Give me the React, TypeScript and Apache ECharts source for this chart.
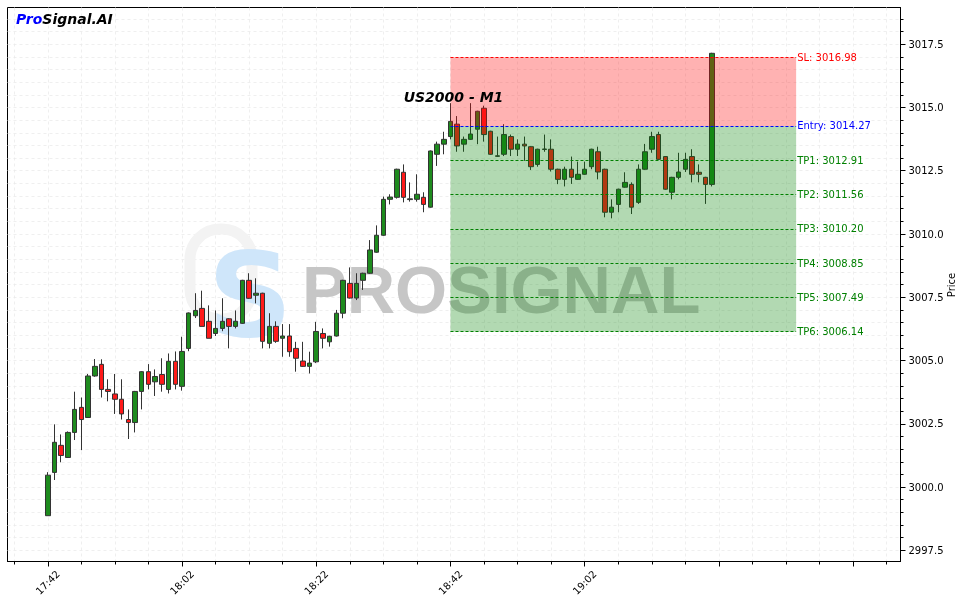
import React, { useEffect, useRef } from 'react';
import * as echarts from 'echarts';

const startMinute = 17 * 60 + 42;
const barCount = 100;
const fmtTime = (m: number) => {
  const h = Math.floor(m / 60);
  const mm = Math.round(m % 60);
  return `${h}:${mm < 10 ? '0' : ''}${mm}`;
};
const times: string[] = Array.from({ length: barCount }, (_, i) => fmtTime(startMinute + i));

const opens = [
  2998.87, 3000.58, 3001.65, 3001.17, 3002.16, 3003.15, 3002.75, 3004.39, 3004.85, 3003.86,
  3003.68, 3003.47, 3002.67, 3002.55, 3003.78, 3004.56, 3004.16, 3004.45, 3003.86, 3004.97,
  3003.98, 3005.48, 3006.77, 3007.06, 3006.55, 3006.07, 3006.27, 3006.65, 3006.35, 3006.47,
  3008.17, 3007.58, 3007.66, 3005.68, 3006.35, 3005.88, 3005.97, 3005.48, 3004.98, 3004.77,
  3004.95, 3006.07, 3005.74, 3005.97, 3006.87, 3008.05, 3007.47, 3008.17, 3008.45, 3009.28,
  3009.95, 3011.37, 3011.45, 3012.44, 3011.36, 3011.37, 3011.45, 3011.06, 3013.15, 3013.55,
  3013.85, 3014.34, 3013.55, 3013.74, 3014.14, 3014.97, 3014.06, 3013.07, 3013.15, 3013.85,
  3013.35, 3013.55, 3013.45, 3012.75, 3013.34, 3013.35, 3012.56, 3012.16, 3012.56, 3012.16,
  3012.36, 3012.66, 3013.25, 3012.56, 3010.86, 3011.17, 3011.85, 3011.96, 3011.25, 3012.56,
  3013.35, 3013.93, 3013.06, 3011.65, 3012.24, 3012.56, 3013.06, 3012.44, 3012.24, 3011.96,
];
const closes = [
  3000.47, 3001.77, 3001.25, 3002.16, 3003.07, 3002.67, 3004.39, 3004.77, 3003.86, 3003.78,
  3003.47, 3002.89, 3002.55, 3003.78, 3004.56, 3004.06, 3004.37, 3004.06, 3004.97, 3004.06,
  3005.36, 3006.88, 3006.98, 3006.35, 3005.88, 3006.27, 3006.55, 3006.35, 3006.55, 3008.17,
  3007.46, 3007.66, 3005.76, 3006.35, 3005.76, 3005.97, 3005.35, 3005.09, 3004.77, 3004.90,
  3006.15, 3005.88, 3005.96, 3006.87, 3008.17, 3007.47, 3008.05, 3008.45, 3009.37, 3009.95,
  3011.37, 3011.46, 3012.56, 3011.45, 3011.39, 3011.57, 3011.17, 3013.28, 3013.55, 3013.74,
  3014.45, 3013.48, 3013.74, 3013.95, 3014.85, 3013.93, 3013.15, 3013.09, 3013.93, 3013.35,
  3013.55, 3013.48, 3012.66, 3013.35, 3013.36, 3012.56, 3012.16, 3012.56, 3012.24, 3012.36,
  3012.56, 3013.35, 3012.45, 3010.86, 3011.06, 3011.77, 3012.04, 3011.06, 3012.56, 3013.25,
  3013.85, 3012.95, 3011.77, 3012.24, 3012.45, 3012.95, 3012.36, 3012.36, 3011.96, 3017.14,
];
const lows = [
  2998.87, 3000.28, 3000.98, 3001.15, 3001.86, 3001.46, 3002.73, 3004.36, 3003.54, 3003.39,
  3002.89, 3002.67, 3001.90, 3002.16, 3003.07, 3003.86, 3003.60, 3003.77, 3003.70, 3003.86,
  3003.81, 3005.37, 3006.68, 3006.35, 3005.88, 3005.97, 3006.16, 3005.48, 3006.27, 3006.45,
  3007.44, 3007.26, 3005.48, 3005.48, 3005.70, 3005.15, 3005.15, 3004.56, 3004.75, 3004.49,
  3004.90, 3005.48, 3005.55, 3005.95, 3006.67, 3007.45, 3007.39, 3007.79, 3008.43, 3009.26,
  3009.93, 3011.17, 3011.40, 3011.25, 3011.28, 3011.28, 3010.86, 3011.04, 3012.69, 3013.15,
  3013.74, 3013.25, 3013.25, 3013.72, 3013.55, 3013.65, 3013.13, 3013.05, 3013.08, 3013.08,
  3013.08, 3012.89, 3012.53, 3012.66, 3013.25, 3012.47, 3011.97, 3011.88, 3011.98, 3012.14,
  3012.34, 3012.56, 3012.16, 3010.66, 3010.62, 3010.86, 3011.83, 3010.79, 3011.19, 3012.54,
  3013.21, 3012.93, 3011.75, 3011.37, 3012.16, 3012.45, 3012.04, 3012.04, 3011.19, 3011.88,
];
const highs = [
  3000.59, 3002.48, 3002.08, 3002.20, 3003.77, 3003.54, 3004.47, 3005.06, 3005.05, 3004.26,
  3004.47, 3004.26, 3003.07, 3003.80, 3004.58, 3004.86, 3004.65, 3005.09, 3005.28, 3005.36,
  3005.94, 3006.90, 3007.66, 3007.76, 3007.18, 3006.98, 3007.46, 3006.67, 3006.98, 3008.19,
  3008.45, 3008.25, 3007.68, 3006.87, 3006.55, 3006.44, 3006.44, 3005.74, 3005.74, 3005.35,
  3006.53, 3006.27, 3005.98, 3007.00, 3008.19, 3008.68, 3008.45, 3008.47, 3009.76, 3010.34,
  3011.48, 3011.57, 3012.58, 3012.75, 3012.04, 3012.36, 3011.65, 3013.30, 3013.65, 3014.04,
  3015.17, 3014.66, 3013.85, 3015.17, 3014.87, 3015.07, 3014.08, 3013.85, 3014.34, 3013.93,
  3013.74, 3013.85, 3013.47, 3013.37, 3013.93, 3013.74, 3012.58, 3012.66, 3013.06, 3012.86,
  3012.86, 3013.37, 3013.45, 3012.58, 3011.37, 3011.79, 3012.44, 3012.04, 3012.75, 3013.56,
  3014.04, 3014.04, 3013.08, 3012.26, 3013.21, 3013.21, 3013.35, 3012.75, 3012.26, 3017.16,
];

const levelNames = ['SL', 'Entry', 'TP1', 'TP2', 'TP3', 'TP4', 'TP5', 'TP6'];
const levelValues = [3016.98, 3014.27, 3012.91, 3011.56, 3010.2, 3008.85, 3007.49, 3006.14];
const levelColors = ['#ff0000', '#0000ff', '#008000', '#008000', '#008000', '#008000', '#008000', '#008000'];
const zoneStart = 60;
const zoneEnd = 111.5;

const xMajorTicks = [0, 20, 40, 60, 80, 100, 120];
const xLabelTicks = [0, 20, 40, 60, 80];
const xMinorTicks: number[] = [];
for (let v = -5; v <= 125; v += 5) xMinorTicks.push(v);
const yMajorTicks = [2997.5, 3000, 3002.5, 3005, 3007.5, 3010, 3012.5, 3015, 3017.5];
const yMinorTicks: number[] = [];
for (let v = 2997.5; v <= 3018.51; v += 0.5) yMinorTicks.push(Math.round(v * 10) / 10);

const FONT = 'DejaVu Sans';

export default function App() {
  const ref = useRef<HTMLDivElement>(null);
  useEffect(() => {
    const chart = echarts.init(ref.current!, null, { renderer: 'svg' });
    const candleData = times.map((_, i) => [i, opens[i], closes[i], lows[i], highs[i]]);
    const gridLine = { show: true, lineStyle: { color: '#ebebeb', type: [3, 3] as any, width: 0.8 } };
    const option: any = {
      animation: false,
      grid: {
        left: 7.5, right: 62.5, top: 7.5, bottom: 41.5, show: true, borderColor: '#000', borderWidth: 1,
        backgroundColor: 'transparent', containLabel: false, outerBoundsMode: 'none',
      },
      xAxis: [
        {
          type: 'value', min: -6.0, max: 127.05, position: 'bottom',
          axisLine: { show: true, onZero: false, lineStyle: { color: '#000', width: 1 } },
          axisTick: { show: true, customValues: xMajorTicks, length: 5, lineStyle: { color: '#000' } },
          axisLabel: {
            customValues: xLabelTicks, rotate: 45, align: 'center', verticalAlign: 'middle', margin: 21,
            fontSize: 10, fontFamily: FONT, color: '#000',
            formatter: (v: number) => fmtTime(startMinute + v),
          },
          splitLine: { show: false },
        },
        {
          type: 'value', min: -6.0, max: 127.05, position: 'bottom',
          axisLine: { show: false, onZero: false },
          axisTick: { show: true, customValues: xMinorTicks, length: 3, lineStyle: { color: '#000' } },
          axisLabel: { show: false },
          splitLine: gridLine,
        },
      ],
      yAxis: [
        {
          type: 'value', min: 2997.06, max: 3018.95, position: 'right',
          axisLine: { show: true, onZero: false, lineStyle: { color: '#000', width: 1 } },
          axisTick: { show: true, customValues: yMajorTicks, length: 5, lineStyle: { color: '#000' } },
          axisLabel: {
            customValues: yMajorTicks, margin: 8, fontSize: 10, fontFamily: FONT, color: '#000',
            formatter: (v: number) => v.toFixed(1),
          },
          splitLine: { show: false },
        },
        {
          type: 'value', min: 2997.06, max: 3018.95, position: 'right',
          axisLine: { show: false, onZero: false },
          axisTick: { show: true, customValues: yMinorTicks, length: 3, lineStyle: { color: '#000' } },
          axisLabel: { show: false },
          splitLine: gridLine,
        },
      ],
      graphic: [
        {
          type: 'rect', z: 1, silent: true,
          shape: { x: 190, y: 229, width: 62, height: 90, r: 30 },
          style: { fill: 'none', stroke: '#f3f3f3', lineWidth: 11 },
        },
        {
          type: 'text', z: 1, silent: true, x: 250, y: 295,
          style: { text: 'S', fill: '#cfe6fa', font: `bold 118px ${FONT}`, textAlign: 'center', textVerticalAlign: 'middle' },
        },
        {
          type: 'text', z: 1, silent: true, x: 302, y: 289,
          style: { text: 'PROSIGNAL', fill: '#c6c6c6', font: 'bold 67px "Liberation Sans"', textAlign: 'left', textVerticalAlign: 'middle' },
        },
        {
          type: 'text', z: 10, silent: true, x: 453.5, y: 97,
          style: { text: 'US2000 - M1', fill: '#000', font: `italic bold 14px ${FONT}`, textAlign: 'center', textVerticalAlign: 'middle' },
        },
        {
          type: 'text', z: 10, silent: true, x: 16, y: 19,
          style: {
            text: '{a|Pro}{b|Signal.AI}', textVerticalAlign: 'middle', textAlign: 'left',
            rich: {
              a: { fill: '#0000ff', font: `italic bold 14px ${FONT}` },
              b: { fill: '#000', font: `italic bold 14px ${FONT}` },
            },
          },
        },
        {
          type: 'text', z: 10, silent: true, x: 951, y: 285, rotation: Math.PI / 2,
          style: { text: 'Price', fill: '#000', font: `10px ${FONT}`, textAlign: 'center', textVerticalAlign: 'middle' },
        },
      ],
      series: [
        {
          type: 'candlestick', name: 'US2000', xAxisIndex: 0, yAxisIndex: 0, z: 2,
          dimensions: ['time', 'open', 'close', 'lowest', 'highest'],
          encode: { x: 'time', y: ['open', 'close', 'lowest', 'highest'] },
          data: candleData,
          barWidth: 5,
          itemStyle: { color: '#1e8b1e', color0: '#ff1a1a', borderColor: '#333', borderColor0: '#333', borderWidth: 1 },
        },
        {
          type: 'line', name: 'levels', xAxisIndex: 0, yAxisIndex: 0, data: [], z: 4,
          markArea: {
            silent: true, z: 4, label: { show: false },
            data: [
              [{ coord: [zoneStart, levelValues[0]], itemStyle: { color: 'rgba(255,0,0,0.3)' } }, { coord: [zoneEnd, levelValues[1]] }],
              [{ coord: [zoneStart, levelValues[1]], itemStyle: { color: 'rgba(0,128,0,0.3)' } }, { coord: [zoneEnd, levelValues[7]] }],
            ],
          },
          markLine: {
            silent: true, z: 5, symbol: ['none', 'none'],
            data: levelValues.map((v, i) => [
              {
                coord: [zoneStart, v],
                lineStyle: { color: levelColors[i], type: [3, 2], width: 1 },
                label: {
                  show: true, position: 'end', distance: 1, color: levelColors[i], fontSize: 10, fontFamily: FONT,
                  formatter: `${levelNames[i]}: ${v.toFixed(2)}`,
                },
              },
              { coord: [zoneEnd, v] },
            ]),
          },
        },
      ],
    };
    chart.setOption(option);
    return () => chart.dispose();
  }, []);
  return <div ref={ref} style={{ position: 'fixed', left: 0, top: 0, width: 963, height: 603 }} />;
}
